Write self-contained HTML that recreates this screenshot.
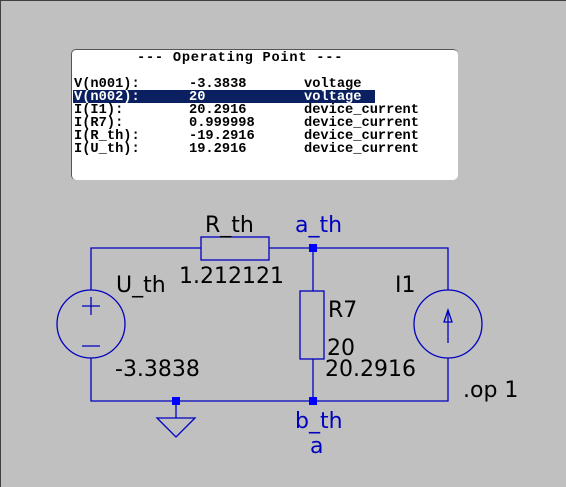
<!DOCTYPE html>
<html><head><style>
body{margin:0;width:566px;height:487px;background:#c0c0c0;overflow:hidden;position:relative;font-family:"DejaVu Sans","Liberation Sans",sans-serif}
.bl{position:absolute;left:0;top:0;width:565px;height:486px;border-left:1px solid #404040;border-top:1px solid #404040}
.panel{position:absolute;left:71px;top:49px;width:386px;height:130px;background:#fff;border-radius:5px;border-top:1px solid #555;border-left:1px solid #555}
.mono{position:absolute;font-family:"Liberation Mono","DejaVu Sans Mono",monospace;font-weight:bold;font-size:13.7px;line-height:13px;white-space:pre;color:#000}
.hl{position:absolute;left:73px;top:90px;width:302px;height:13px;background:#0a2060}
</style></head><body>
<div class="bl"></div>
<div class="panel"></div>
<div class="hl"></div>
<div class="mono" style="left:137px;top:52px;letter-spacing:0.75px">--- Operating Point ---</div>
<div class="mono" style="left:74px;top:78px">V(n001):      -3.3838       voltage</div>
<div class="mono" style="left:74px;top:91px;color:#fff">V(n002):      20            voltage</div>
<div class="mono" style="left:74px;top:104px">I(I1):        20.2916       device_current</div>
<div class="mono" style="left:74px;top:117px">I(R7):        0.999998      device_current</div>
<div class="mono" style="left:74px;top:130px">I(R_th):      -19.2916      device_current</div>
<div class="mono" style="left:74px;top:143px">I(U_th):      19.2916       device_current</div>
<svg width="566" height="487" style="position:absolute;left:0;top:0" font-family="DejaVu Sans, Liberation Sans, sans-serif" font-size="22">
<g stroke="#0000c0" stroke-width="1.3" fill="none">
<polyline points="201,248 91,248 91,290"/>
<polyline points="91,358 91,401 448,401 448,358"/>
<polyline points="269,248 448,248 448,290"/>
<line x1="313" y1="248" x2="313" y2="291"/>
<line x1="313" y1="359" x2="313" y2="401"/>
<rect x="201" y="237" width="68" height="23"/>
<rect x="300" y="291" width="24" height="68"/>
<circle cx="91" cy="324" r="34"/>
<circle cx="448" cy="324" r="34"/>
<line x1="82" y1="306" x2="100" y2="306"/><line x1="91" y1="297" x2="91" y2="315"/>
<line x1="82" y1="346" x2="100" y2="346"/>
<line x1="448" y1="343" x2="448" y2="310"/>
<polygon points="448,310 444,322 452,322"/>
<line x1="176" y1="401" x2="176" y2="418"/>
<polygon points="157,418 195,418 176,437"/>
</g>
<g fill="#0000ff">
<rect x="309" y="244" width="8" height="8"/>
<rect x="309" y="397" width="8" height="8"/>
<rect x="172" y="397" width="8" height="8"/>
</g>
<g fill="#000">
<text x="205" y="232">R_th</text>
<text x="179" y="283">1.212121</text>
<text x="116" y="292">U_th</text>
<text x="115" y="376">-3.3838</text>
<text x="328" y="317">R7</text>
<text x="327" y="355">20</text>
<text x="325" y="376">20.2916</text>
<text x="395" y="292">I1</text>
<text x="463" y="397">.op 1</text>
</g>
<g fill="#0000c0">
<text x="295" y="232">a_th</text>
<text x="295" y="428">b_th</text>
<text x="310" y="453">a</text>
</g>
</svg>
</body></html>
